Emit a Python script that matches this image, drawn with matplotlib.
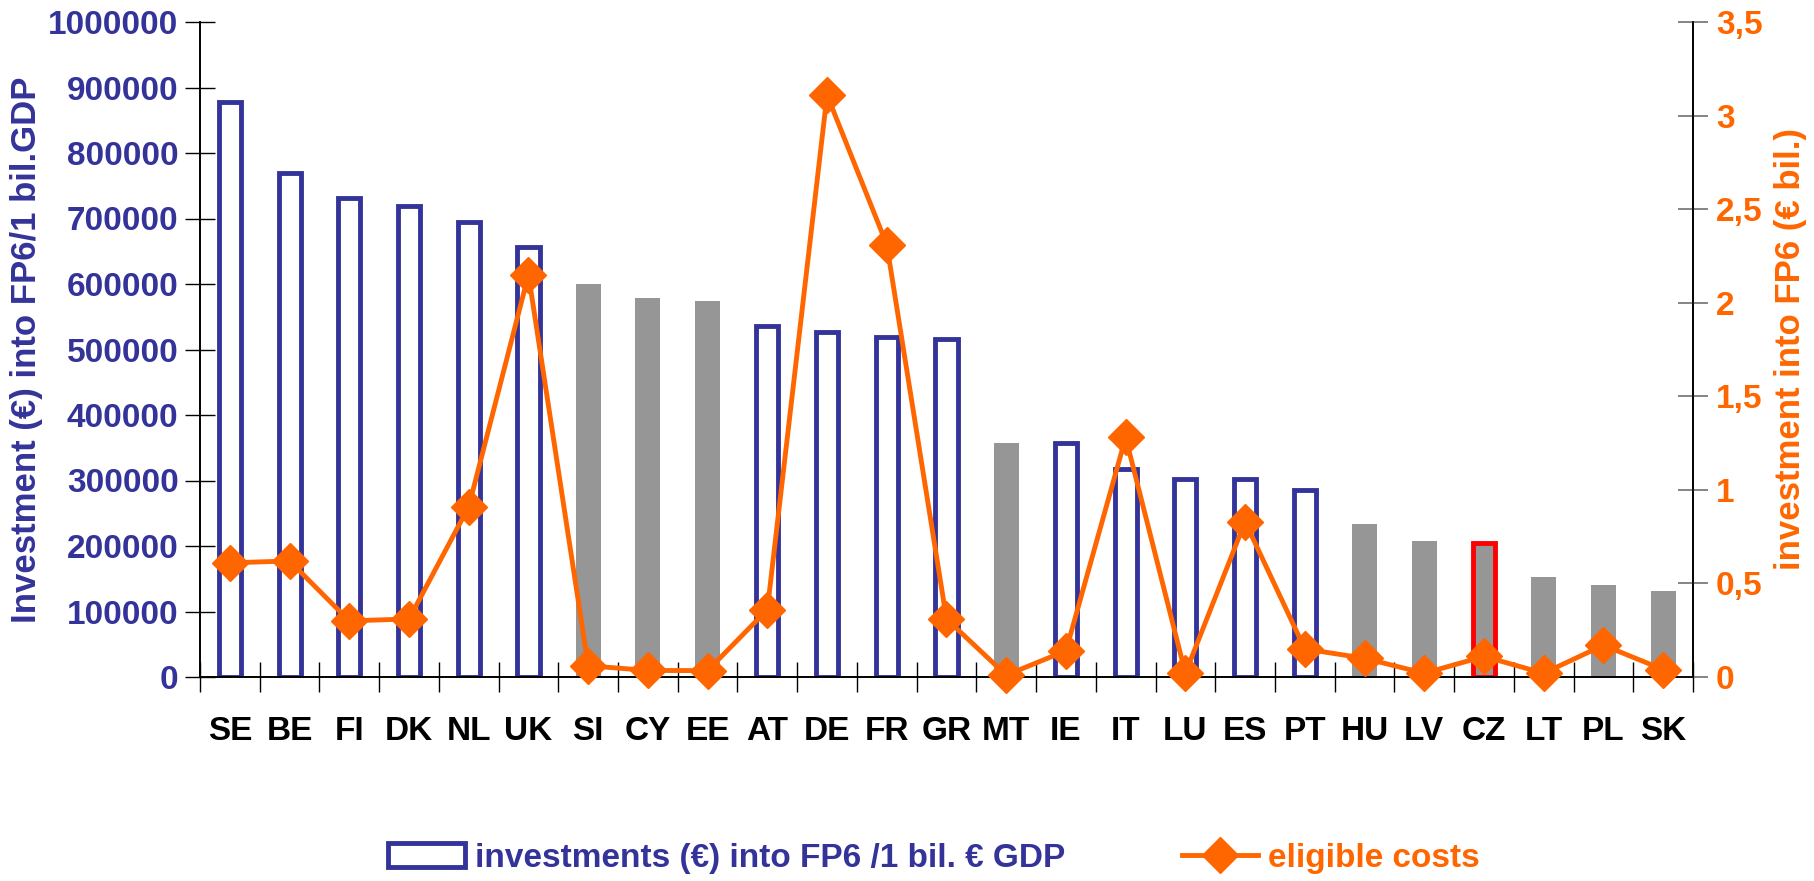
import matplotlib.pyplot as plt
from matplotlib.patches import Patch
from matplotlib.lines import Line2D
from matplotlib.ticker import FuncFormatter
import numpy as np

plt.rcParams['font.family'] = ['Liberation Sans', 'DejaVu Sans']
plt.rcParams['font.weight'] = 'bold'
plt.rcParams['axes.labelweight'] = 'bold'

# data
countries = ['SE', 'BE', 'FI', 'DK', 'NL', 'UK', 'SI', 'CY', 'EE', 'AT', 'DE', 'FR', 'GR',
             'MT', 'IE', 'IT', 'LU', 'ES', 'PT', 'HU', 'LV', 'CZ', 'LT', 'PL', 'SK']
invest_per_gdp = [878000, 770000, 732000, 719000, 694000, 656000, 600000, 579000, 574000,
                  536000, 527000, 519000, 516000, 357000, 358000, 317000, 303000, 303000,
                  286000, 234000, 207000, 204000, 153000, 140000, 132000]
eligible_costs = [0.61, 0.62, 0.30, 0.31, 0.91, 2.15, 0.06, 0.035, 0.034, 0.36, 3.11, 2.31,
                  0.31, 0.01, 0.14, 1.28, 0.02, 0.83, 0.15, 0.10, 0.02, 0.11, 0.02, 0.17, 0.04]
# bar style per country: 'o' outline, 'g' grey fill, 'r' grey with red edge
bar_style = ['o', 'o', 'o', 'o', 'o', 'o', 'g', 'g', 'g', 'o', 'o', 'o', 'o',
             'g', 'o', 'o', 'o', 'o', 'o', 'g', 'g', 'r', 'g', 'g', 'g']

left_label = 'Investment (€) into FP6/1 bil.GDP'
right_label = 'investment into FP6 (€ bil.)'
bar_legend = 'investments (€) into FP6 /1 bil. € GDP'
line_legend = 'eligible costs'

BLUE = '#333399'
ORANGE = '#FF6600'
GREY = '#969696'
RED = '#FF0000'
FS = 24

fig = plt.figure(figsize=(18.14, 8.81), dpi=100)
ax = fig.add_axes([200/1814, 1-677/881, (1693-200)/1814, (677-22)/881])
x = np.arange(len(countries))

for xi, v, s in zip(x, invest_per_gdp, bar_style):
    if s == 'o':
        ax.bar(xi, v, width=0.37, facecolor='white', edgecolor=BLUE, linewidth=3.5, zorder=2)
    elif s == 'g':
        ax.bar(xi, v, width=0.42, facecolor=GREY, edgecolor='none', zorder=2)
    else:
        ax.bar(xi, v, width=0.37, facecolor=GREY, edgecolor=RED, linewidth=3.5, zorder=2)

ax.set_xlim(-0.5, len(countries) - 0.5)
ax.set_ylim(0, 1000000)
ax.set_yticks(np.arange(0, 1000001, 100000))
ax.yaxis.set_major_formatter(FuncFormatter(lambda v, p: '%d' % v))
ax.set_xticks(x)
ax.set_xticklabels(countries)
ax.set_xticks(np.arange(-0.5, len(countries), 1.0), minor=True)
ax.tick_params(axis='x', which='major', length=0, pad=28, labelsize=FS, labelcolor='black')
ax.tick_params(axis='x', which='minor', direction='inout', length=21, width=1, color='black')
ax.tick_params(axis='y', direction='inout', length=21, width=1, color='black',
               labelsize=FS, labelcolor=BLUE, pad=5)
ax.set_ylabel(left_label, fontsize=25, color=BLUE, labelpad=4)
ax.spines['top'].set_visible(False)
for sp in ['left', 'right', 'bottom']:
    ax.spines[sp].set_linewidth(1.2)

ax2 = ax.twinx()
ax2.plot(x, eligible_costs, color=ORANGE, linewidth=3.5, marker='D', markersize=18,
         markeredgecolor=ORANGE, markerfacecolor=ORANGE, zorder=3, clip_on=False)
ax2.set_ylim(0, 3.5)
ax2.set_yticks(np.arange(0, 3.51, 0.5))
ax2.yaxis.set_major_formatter(FuncFormatter(lambda v, p: ('%g' % v).replace('.', ',')))
ax2.tick_params(axis='y', direction='inout', length=21, width=1.2, color='#707070',
                labelsize=FS, labelcolor=ORANGE, pad=6)
ax2.set_ylabel(right_label, fontsize=25, color=ORANGE, labelpad=8)
ax2.spines['top'].set_visible(False)
for sp in ['left', 'right', 'bottom']:
    ax2.spines[sp].set_linewidth(1.2)

handles = [Patch(facecolor='white', edgecolor=BLUE, linewidth=3.5),
           Line2D([0], [0], color=ORANGE, linewidth=3.5, marker='D', markersize=18)]
leg = fig.legend(handles, [bar_legend, line_legend], loc='center', ncol=2,
                 bbox_to_anchor=(0.515, 1-858/881), frameon=False, fontsize=FS,
                 handlelength=2.3, handletextpad=0.3, columnspacing=3.5)
leg.get_texts()[0].set_color(BLUE)
leg.get_texts()[1].set_color(ORANGE)

fig.savefig('out.png', dpi=100)
